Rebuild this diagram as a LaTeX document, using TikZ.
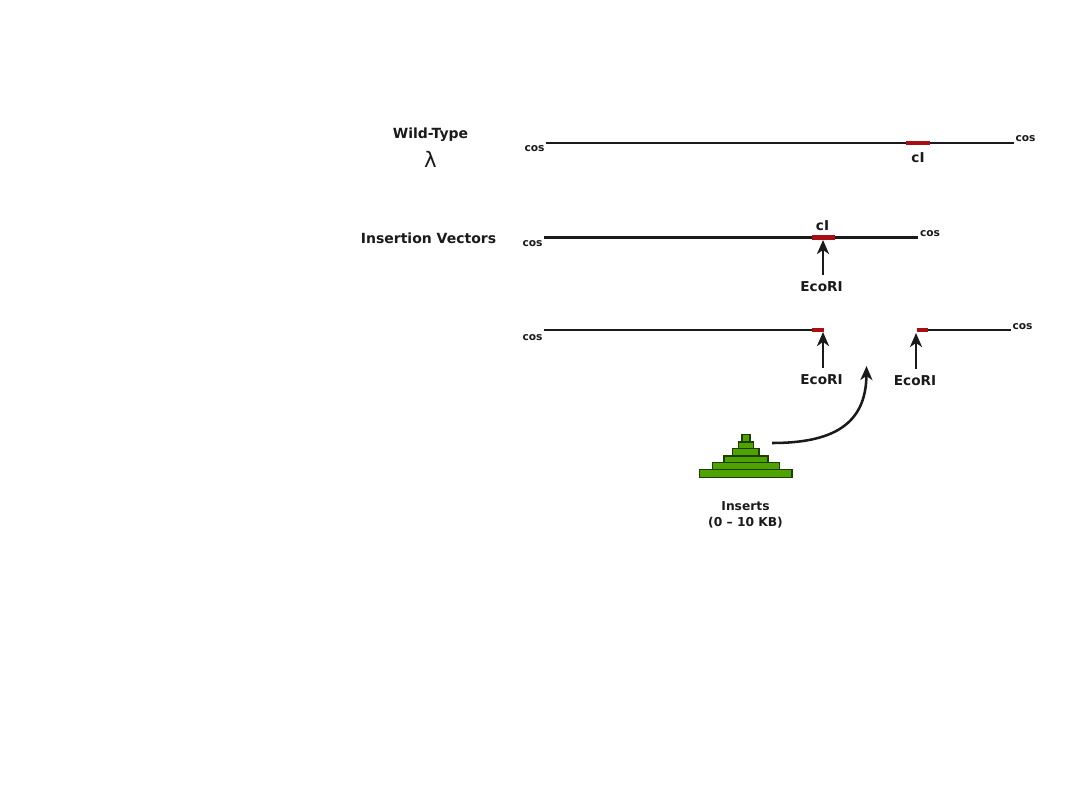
\documentclass[tikz,border=0pt]{standalone}
\usepackage{fontspec}
\setmainfont{DejaVu Sans}
\usetikzlibrary{arrows.meta}
\definecolor{dna}{HTML}{1A1A1A}
\definecolor{gene}{HTML}{A80F14}
\definecolor{insert}{HTML}{4FA300}
\definecolor{insertedge}{HTML}{1F3D00}
\tikzset{
  x=0.75pt,y=-0.75pt,
  arm/.style={draw=dna,line width=1.9pt},
  genepart/.style={draw=gene,line width=3.6pt},
  pointer/.style={draw=dna,line width=1.9pt,-{Stealth[length=10.5pt,width=9pt,inset=3pt]}},
  heading/.style={font=\fontsize{10.5pt}{12pt}\selectfont\bfseries,text=dna,inner sep=0pt},
  small heading/.style={font=\fontsize{9.2pt}{11pt}\selectfont\bfseries,text=dna,inner sep=0pt},
  site/.style={font=\fontsize{10.2pt}{12pt}\selectfont\bfseries,text=dna,inner sep=0pt},
  endlabel/.style={font=\fontsize{8pt}{9pt}\selectfont\bfseries,text=dna,inner sep=0pt},
  bar/.style={draw=insertedge,line width=0.8pt,fill=insert},
}
\begin{document}
\begin{tikzpicture}
\useasboundingbox (0,0) rectangle (1080,810);

% section headings
\node[heading] (wt) at (430.5,134.5) {Wild-Type};
\node[font=\fontsize{16pt}{18pt}\selectfont,text=dna,inner sep=0pt] (lam) at (430.5,159) {λ};
\node[heading] (iv) at (428.5,238) {Insertion Vectors};

% wild-type genome
\coordinate (a1) at (546,143);
\coordinate (a2) at (906,143);
\coordinate (a3) at (930,143);
\coordinate (a4) at (1014,143);
\draw[arm] (a1) -- (a2);
\draw[arm] (a3) -- (a4);
\draw[genepart] (a2) -- (a3);
\node[endlabel] (c1) at (534.5,148.5) {cos};
\node[endlabel] (c2) at (1025.5,138.5) {cos};
\node[site] (ci1) at (918,158) {cI};

% insertion vector
\coordinate (b1) at (544,237.5);
\coordinate (b2) at (812,237.5);
\coordinate (b3) at (835,237.5);
\coordinate (b4) at (918,237.5);
\coordinate (bs) at (823,240);
\draw[arm] (b1) -- (b2);
\draw[arm] (b3) -- (b4);
\draw[genepart] (b2) -- (b3);
\node[endlabel] (c3) at (532.5,244) {cos};
\node[endlabel] (c4) at (930,233.5) {cos};
\node[site] (ci2) at (822.5,226) {cI};
\node[site] (e1) at (821.5,287) {EcoRI};
\draw[pointer] (823,275) -- (bs);

% vector arms after digestion
\coordinate (d1) at (544,330);
\coordinate (d2) at (812,330);
\coordinate (d3) at (824,330);
\coordinate (f1) at (917,330);
\coordinate (f2) at (928,330);
\coordinate (f3) at (1011,330);
\coordinate (ds) at (823,332);
\coordinate (fs) at (916,333);
\draw[arm] (d1) -- (d2);
\draw[genepart] (d2) -- (d3);
\draw[genepart] (f1) -- (f2);
\draw[arm] (f2) -- (f3);
\node[endlabel] (c5) at (532.5,337.5) {cos};
\node[endlabel] (c6) at (1022.5,326.5) {cos};
\node[site] (e2) at (821.5,380) {EcoRI};
\node[site] (e3) at (915,381) {EcoRI};
\draw[pointer] (823,368) -- (ds);
\draw[pointer] (916,369) -- (fs);

% stack of insert fragments
\draw[bar] (742,434.7) rectangle (750,442);
\draw[bar] (738.7,442) rectangle (753.3,448.7);
\draw[bar] (732.7,448.7) rectangle (759,456);
\draw[bar] (724,456) rectangle (768,462.7);
\draw[bar] (712.7,462.7) rectangle (779.3,469.3);
\draw[bar] (699.3,469.3) rectangle (792,477.3);
\node[small heading] (ins) at (745.5,506) {Inserts};
\node[small heading] (rng) at (745.5,523) {(0 – 10 KB)};

% path of the inserts into the gap
\coordinate (p1) at (772,443);
\coordinate (p2) at (866.5,366);
\draw[pointer] (p1) .. controls (832,443) and (866,425) .. (p2);
\end{tikzpicture}
\end{document}
